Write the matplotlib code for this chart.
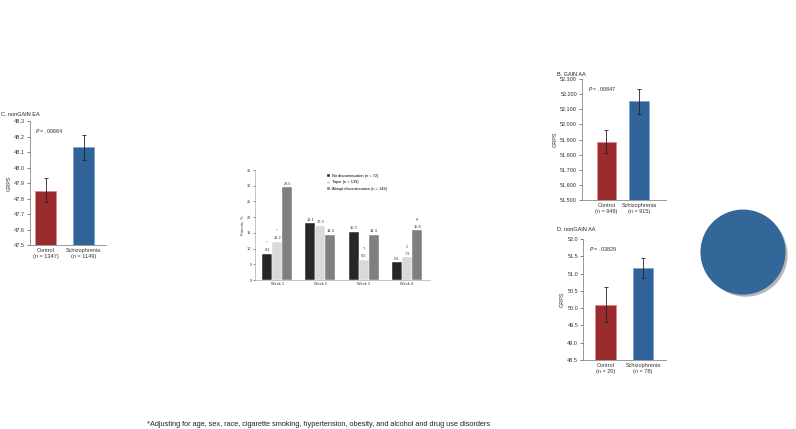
import numpy as np
import matplotlib.pyplot as plt
from matplotlib.patches import Circle
import matplotlib.patheffects as pe

plt.rcParams['font.family'] = ['Liberation Sans', 'DejaVu Sans']

W, H = 796, 429

# ===== data =====
groups = ["Control", "Schizophrenia"]

c_n = ["1347", "1149"]
c_vals = [47.85, 48.13]
c_err_lo = [47.78, 48.05]
c_err_hi = [47.93, 48.21]

b_n = ["949", "915"]
b_vals = [51.885, 52.152]
b_err_lo = [51.808, 52.067]
b_err_hi = [51.965, 52.236]

d_n = ["20", "78"]
d_vals = [50.08, 51.17]
d_err_lo = [49.60, 50.87]
d_err_hi = [50.60, 51.45]

weeks = ["Week 1", "Week 2", "Week 3", "Week 4"]
no_disc = [8.3, 18.1, 15.3, 5.6]
taper = [12.2, 17.3, 6.5, 7.2]
abrupt = [29.5, 14.4, 14.4, 15.8]
no_disc_sym = ["*", "", "", ""]
taper_sym = ["*", "", "\u2020", "\u2021"]
abrupt_sym = ["", "", "", "\u00a7"]
series_names = ["No discontinuation (n = 72)", "Taper (n = 139)",
                "Abrupt discontinuation (n = 146)"]

RED = "#9a2c2e"
BLUE = "#2f6399"
FS = 4.0


def box(x0, y0, x1, y1):
    return [x0 / W, 1 - y1 / H, (x1 - x0) / W, (y1 - y0) / H]


def grps_panel(rect, vals, lo, hi, ns, ylim, yticks, fmt, xlim, bw, title, tpos, pval):
    ax = fig.add_axes(box(*rect))
    x = np.arange(2)
    yerr = [np.array(vals) - np.array(lo), np.array(hi) - np.array(vals)]
    ax.bar(x, vals, width=bw, color=[RED, BLUE],
           edgecolor=["#d98a8c", "#7fa6cf"], linewidth=0.6, zorder=2)
    ax.errorbar(x, vals, yerr=yerr, fmt="none", ecolor="#222222",
                elinewidth=0.6, capsize=1.6, capthick=0.6, zorder=3)
    ax.set_ylim(*ylim)
    ax.set_xlim(*xlim)
    ax.set_yticks(yticks)
    ax.set_yticklabels([fmt.format(t) for t in yticks], fontsize=FS, color="#333333")
    ax.set_xticks(x)
    ax.set_xticklabels([f"{g}\n(n = {n})" for g, n in zip(groups, ns)],
                       fontsize=FS, color="#333333", linespacing=1.3)
    ax.tick_params(axis="x", length=0, pad=2)
    ax.tick_params(axis="y", length=2, width=0.5, pad=1.5, color="#555555")
    for s in ["top", "right"]:
        ax.spines[s].set_visible(False)
    for s in ["left", "bottom"]:
        ax.spines[s].set_color("#888888")
        ax.spines[s].set_linewidth(0.6)
    ax.set_ylabel("GRPS", fontsize=FS, color="#333333", labelpad=2)
    ax.text(0.07, 0.95, "$P$ = " + pval, transform=ax.transAxes,
            fontsize=FS, color="#333333", va="top")
    ax.text(tpos[0], tpos[1], title, transform=ax.transAxes, fontsize=FS,
            color="#222222", va="center")
    return ax


fig = plt.figure(figsize=(W / 100, H / 100), dpi=100)

# ===== C. nonGAIN EA =====
axc = grps_panel((30, 121, 106, 245), c_vals, c_err_lo, c_err_hi, c_n,
                 (47.5, 48.3), np.arange(47.5, 48.31, 0.1), "{:.1f}",
                 (-0.41, 1.59), 0.55, "C. nonGAIN EA", (-0.38, 1.05), ".00664")

# ===== B. GAIN AA =====
axb = grps_panel((582, 79, 666, 200), b_vals, b_err_lo, b_err_hi, b_n,
                 (51.5, 52.3), np.arange(51.5, 52.31, 0.1), "{:.3f}",
                 (-0.75, 1.83), 0.6, "B. GAIN AA", (-0.30, 1.04), ".00847")

# ===== D. nonGAIN AA =====
axd = grps_panel((583, 239, 666, 360), d_vals, d_err_lo, d_err_hi, d_n,
                 (48.5, 52.0), np.arange(48.5, 52.01, 0.5), "{:.1f}",
                 (-0.6, 1.61), 0.55, "D. nonGAIN AA", (-0.31, 1.075), ".03829")

# ===== middle: discontinuation =====
axm = fig.add_axes(box(255, 170, 430, 280))
xm = np.arange(len(weeks))
bw = 0.23
cols = ["#262626", "#d9d9d9", "#7f7f7f"]
all_vals = [no_disc, taper, abrupt]
all_syms = [no_disc_sym, taper_sym, abrupt_sym]
MFS = 2.8
for i, (vals, syms, col, name) in enumerate(zip(all_vals, all_syms, cols, series_names)):
    pos = xm + (i - 1) * bw
    axm.bar(pos, vals, width=bw, color=col, edgecolor="white",
            linewidth=0.3, label=name, zorder=2)
    for p, v, s in zip(pos, vals, syms):
        axm.text(p, v + 0.5, f"{v}", ha="center", va="bottom",
                 fontsize=MFS, color="#333333")
        if s:
            axm.text(p, v + 2.8, s, ha="center", va="bottom",
                     fontsize=MFS, color="#333333")
axm.set_ylim(0, 35)
axm.set_xlim(-0.51, 3.53)
axm.set_yticks(np.arange(0, 36, 5))
axm.set_xticks(xm)
axm.set_xticklabels(weeks, fontsize=MFS, color="#333333")
axm.tick_params(axis="y", labelsize=MFS, length=1.5, width=0.4, pad=1,
                colors="#333333")
axm.tick_params(axis="x", length=0, pad=1.5)
for s in ["top", "right"]:
    axm.spines[s].set_visible(False)
for s in ["left", "bottom"]:
    axm.spines[s].set_color("#999999")
    axm.spines[s].set_linewidth(0.4)
axm.set_ylabel("Patients, %", fontsize=MFS, color="#333333", labelpad=2)
axm.legend(loc="upper left", bbox_to_anchor=(0.4, 0.98), fontsize=MFS,
           frameon=False, handlelength=0.8, handleheight=0.8,
           handletextpad=0.5, labelspacing=0.6, borderpad=0)

# ===== circle =====
axo = fig.add_axes(box(698, 208, 788, 298))
axo.set_xlim(-1.0, 1.0)
axo.set_ylim(-1.0, 1.0)
axo.set_aspect("equal")
axo.axis("off")
circ = Circle((0.0, 0.02), 0.93, color="#336699", zorder=2,
              path_effects=[pe.SimplePatchShadow(offset=(2, -2), alpha=0.35,
                                                 shadow_rgbFace="#333333"),
                            pe.Normal()])
axo.add_patch(circ)

# ===== footnote =====
fig.text(147 / W, 1 - 424 / H,
         "*Adjusting for age, sex, race, cigarette smoking, hypertension, obesity, "
         "and alcohol and drug use disorders",
         fontsize=5.3, color="#222222", va="center")

fig.savefig("out.png", dpi=100, facecolor="white")
